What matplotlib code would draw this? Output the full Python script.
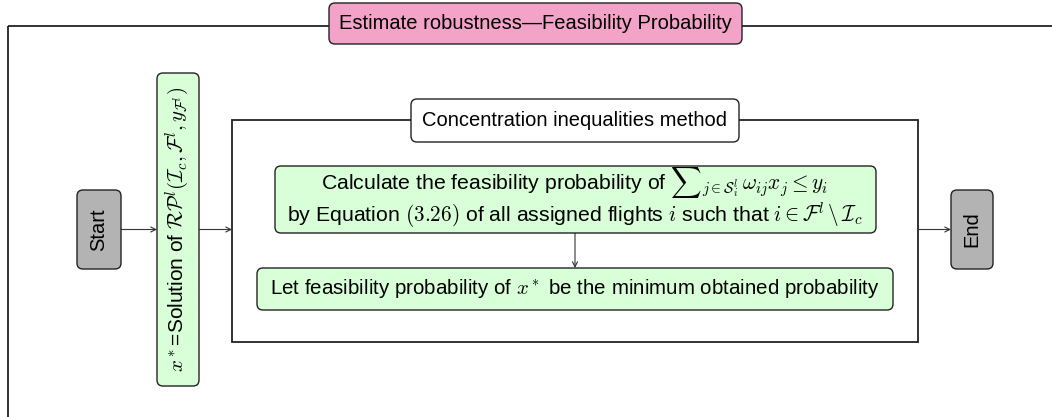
import matplotlib.pyplot as plt
from matplotlib.patches import FancyBboxPatch, Rectangle

plt.rcParams['font.family'] = ['Liberation Sans', 'DejaVu Sans']
plt.rcParams['mathtext.fontset'] = 'cm'

# labels of the flowchart
title_outer = 'Estimate robustness\u2014Feasibility Probability'
title_inner = 'Concentration inequalities method'
start_label = 'Start'
end_label = 'End'
solution_label = r'$x^*$=Solution of $\mathcal{RP}^l(\mathcal{I}_c,\mathcal{F}^l,y_{\mathcal{F}^l})$'
calc_lines = [r'Calculate the feasibility probability of ${\sum}_{j\in\mathcal{S}_i^l}\,\omega_{ij}x_j\leq y_i$',
              r'by Equation $(3.26)$ of all assigned flights $i$ such that $i\in\mathcal{F}^l\,\backslash\,\mathcal{I}_c$']
min_label = r'Let feasibility probability of $x^*$ be the minimum obtained probability'

pink = '#F3A3C7'
green = '#D9FFD9'
grey = '#B3B3B3'
edge = '#222222'
fs = 14.5

fig = plt.figure(figsize=(10.52, 4.17), dpi=100)
ax = fig.add_axes([0, 0, 1, 1])
ax.set_xlim(0, 1052)
ax.set_ylim(417, 0)
ax.axis('off')


def box(x0, y0, x1, y1, color, z=3):
    p = FancyBboxPatch((x0, y0), x1 - x0, y1 - y0,
                       boxstyle='round,pad=0,rounding_size=6',
                       fc=color, ec=edge, lw=1.0, zorder=z)
    ax.add_patch(p)


def arrow(x0, y0, x1, y1):
    ax.annotate('', xy=(x1, y1), xytext=(x0, y0),
                arrowprops=dict(arrowstyle='->', lw=0.8, color='#333333',
                                shrinkA=0, shrinkB=0, mutation_scale=9),
                zorder=2)


# outer frame (runs off the right and bottom edge)
ax.add_patch(Rectangle((8, 25.5), 1100, 392, fill=False, ec=edge, lw=1.3, zorder=1))
box(329, 3, 742, 44, pink)
ax.text(535.5, 23.5, title_outer, ha='center', va='center', fontsize=fs, zorder=4)

# start / solution / end
box(77, 190, 121, 269, grey)
ax.text(99, 229.5, start_label, ha='center', va='center', rotation=90, fontsize=fs, zorder=4)
box(157, 73, 199, 386, green)
ax.text(178, 229.5, solution_label, ha='center', va='center', rotation=90, fontsize=fs + 0.5, zorder=4)
box(951, 190, 993, 269, grey)
ax.text(972, 229.5, end_label, ha='center', va='center', rotation=90, fontsize=fs, zorder=4)

# inner frame
ax.add_patch(Rectangle((232, 120), 686, 222, fill=False, ec=edge, lw=1.3, zorder=1))
box(411, 99, 739, 142, 'white')
ax.text(575, 120.5, title_inner, ha='center', va='center', fontsize=fs, zorder=4)

box(275, 166, 876, 233, green)
ax.text(575, 182, calc_lines[0], ha='center', va='center', fontsize=fs + 0.8, zorder=4)
ax.text(575, 215, calc_lines[1], ha='center', va='center', fontsize=fs + 0.8, zorder=4)
box(257, 268, 893, 310, green)
ax.text(575, 289, min_label, ha='center', va='center', fontsize=fs + 0.3, zorder=4)

arrow(121, 229.5, 157, 229.5)
arrow(199, 229.5, 232, 229.5)
arrow(918, 229.5, 951, 229.5)
arrow(575, 233, 575, 268)

fig.savefig('out.png', dpi=100)
